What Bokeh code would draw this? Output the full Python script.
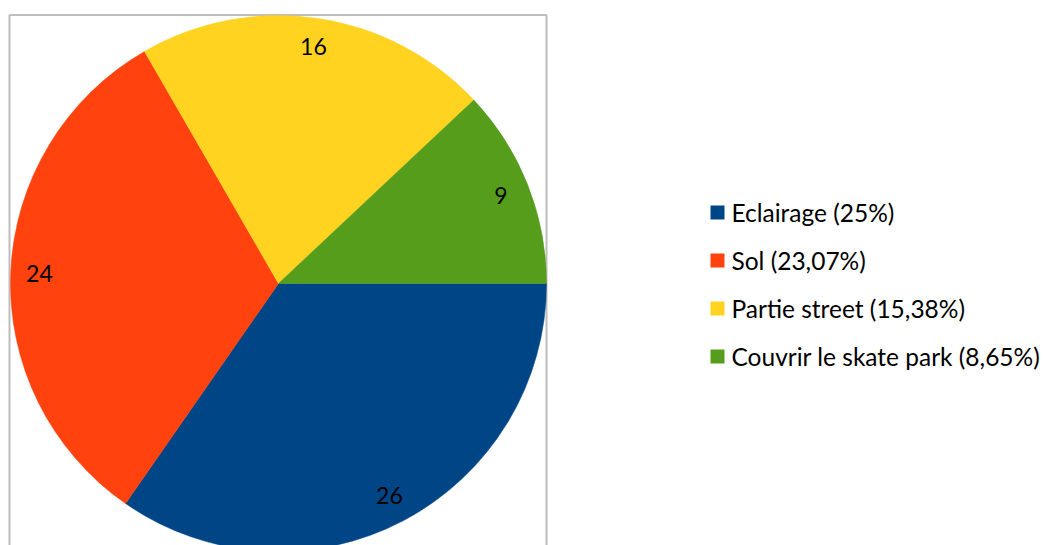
import numpy as np
from bokeh.plotting import figure
from bokeh.models import Range1d, ColumnDataSource
from bokeh.core.properties import value
from bokeh.embed import file_html
from bokeh.resources import INLINE

categories = ["Eclairage", "Sol", "Partie street", "Couvrir le skate park"]
values = [26, 24, 16, 9]
legend_labels = ["Eclairage (25%)", "Sol (23,07%)", "Partie street (15,38%)", "Couvrir le skate park (8,65%)"]
colors = ["#004586", "#ff420e", "#ffd320", "#579d1c"]

W, H = 1045, 545
FONT = "Lato"

p = figure(width=W, height=H, output_backend="svg", toolbar_location=None,
           x_range=Range1d(0, W), y_range=Range1d(545 - H, 545),
           min_border=0, outline_line_color=None)
p.axis.visible = False
p.grid.visible = False
p.background_fill_color = "white"
p.border_fill_color = "white"

def sy(y):
    return 545 - y

# frame border
p.quad(left=[9], right=[546], top=[sy(14.5)], bottom=[sy(560)],
       fill_color=None, line_color="#bdbdbd", line_width=2)

cx, cy, r = 278, sy(283), 268
vals = np.array(values, dtype=float)
cum = np.concatenate([[0], np.cumsum(vals)]) / vals.sum()
start = -cum[1:] * 2 * np.pi
end = -cum[:-1] * 2 * np.pi
src = ColumnDataSource(dict(start=start, end=end, color=colors))
p.wedge(x=cx, y=cy, radius=r, start_angle="start", end_angle="end",
        direction="anticlock", fill_color="color", line_color="color", line_width=0.5, source=src)

mid = (start + end) / 2
lr = 0.893 * r
p.text(x=cx + lr * np.cos(mid), y=cy + lr * np.sin(mid), text=[str(v) for v in values],
       text_font=value(FONT), text_font_size="23px", text_color="#000000",
       text_align="center", text_baseline="middle")

# legend
ly = [sy(212 + 48 * i) for i in range(len(categories))]
p.rect(x=[717] * 4, y=ly, width=14, height=14, fill_color=colors, line_color=None)
p.text(x=[731] * 4, y=ly, text=legend_labels, text_font=value(FONT), text_font_size="24.5px",
       text_color="#000000", text_align="left", text_baseline="middle")

open("out.html", "w").write(file_html(p, INLINE))
